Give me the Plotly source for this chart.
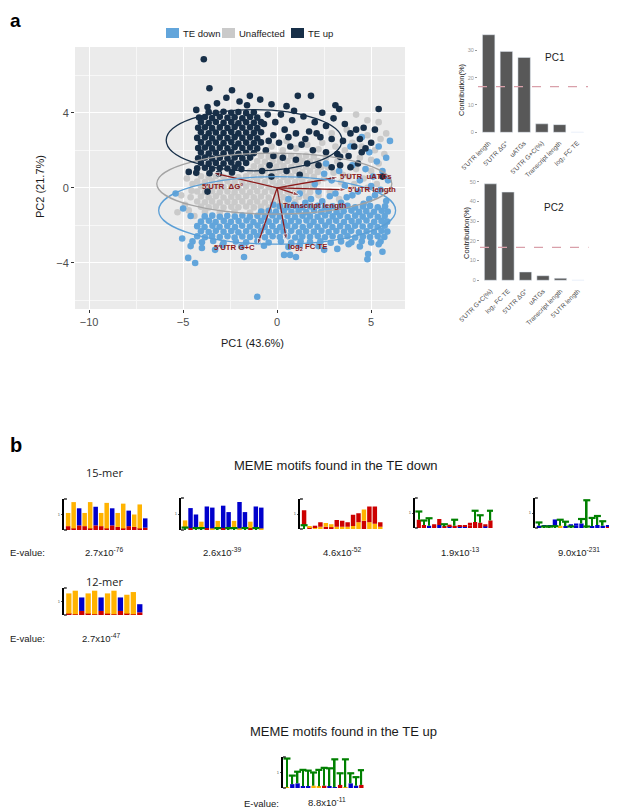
import plotly.graph_objects as go

# ------------------------------------------------------------------------------
# DATA
# ------------------------------------------------------------------------------
# PCA scores, one list per group: (PC1, PC2)
te_up_pts = [
    # sparse points around the dense block
    (-3.9, 6.85), (-3.6, 5.3), (-2.4, 5.2), (-1.45, 4.9), (1.1, 4.9), (1.8, 4.9),
    (3.1, 4.4), (3.3, 4.2), (5.4, 4.2), (4.6, 3.2), (4.2, 3.1), (-0.9, 4.7),
    (-0.3, 4.45), (0.5, 4.35), (-2.0, 4.6), (-3.2, 4.5), (-3.7, 4.3), (-4.3, 4.15),
    (-1.6, 4.4), (-2.7, 4.8), (0.2, 3.9), (0.8, 3.6), (1.4, 3.8), (2.0, 3.5),
    (2.6, 3.3), (3.0, 3.7), (3.6, 3.4), (0.4, 3.1), (1.0, 2.9), (1.7, 3.0),
    (2.3, 2.7), (2.9, 2.6), (3.5, 2.5), (3.9, 2.9), (4.4, 2.6), (0.1, 2.4),
    (0.7, 2.2), (1.3, 2.3), (1.9, 2.0), (2.6, 1.9), (3.2, 1.8), (3.8, 1.7),
    (4.5, 1.9), (4.7, 2.1), (0.3, 1.6), (1.0, 1.5), (1.6, 1.3), (2.2, 1.2),
    (2.9, 1.1), (3.35, 1.65), (3.35, 1.2), (3.9, 1.1), (5.6, 0.6), (0.5, 0.9),
    (1.2, 0.7), (-0.4, 1.2), (-0.6, 2.0), (-0.2, 2.8), (-0.7, 3.4), (-0.5, 3.9),
    (-0.1, 3.5), (0.6, 2.7), (1.5, 2.6), (2.1, 2.9), (4.1, 2.2), (5.2, 3.1),
    (5.0, 2.4), (4.3, 1.3), (-0.8, 0.9), (-0.3, 0.6), (-3.7, -0.2), (-0.45, 2.5),
    (-0.2, 1.7), (0.9, 4.1), (2.4, 4.0),
    # dense block
    (-3.64, 4.03), (-3.26, 3.99), (-2.85, 4.05), (-2.44, 4.0), (-2.06, 4.04), (-1.65, 3.98), (-1.24, 4.02),
    (-4.15, 3.74), (-3.84, 3.77), (-3.46, 3.72), (-3.05, 3.78), (-2.64, 3.73), (-2.26, 3.76),
    (-1.85, 3.71), (-1.44, 3.77), (-1.06, 3.74),
    (-4.05, 3.5), (-3.64, 3.45), (-3.26, 3.51), (-2.85, 3.46), (-2.44, 3.5), (-2.06, 3.44),
    (-1.65, 3.49), (-1.24, 3.47), (-0.86, 3.5),
    (-4.2, 3.2), (-3.84, 3.23), (-3.46, 3.18), (-3.05, 3.22), (-2.64, 3.19), (-2.26, 3.24),
    (-1.85, 3.2), (-1.44, 3.23), (-1.06, 3.18),
    (-4.05, 2.96), (-3.64, 2.91), (-3.26, 2.95), (-2.85, 2.92), (-2.44, 2.97), (-2.06, 2.9),
    (-1.65, 2.95), (-1.24, 2.93), (-0.86, 2.96),
    (-4.25, 2.66), (-3.84, 2.69), (-3.46, 2.64), (-3.05, 2.68), (-2.64, 2.65), (-2.26, 2.7),
    (-1.85, 2.66), (-1.44, 2.69), (-1.06, 2.64),
    (-4.05, 2.42), (-3.64, 2.37), (-3.26, 2.41), (-2.85, 2.38), (-2.44, 2.43), (-2.06, 2.36),
    (-1.65, 2.41), (-1.24, 2.39), (-0.86, 2.42),
    (-4.2, 2.12), (-3.84, 2.15), (-3.46, 2.1), (-3.05, 2.14), (-2.64, 2.11), (-2.26, 2.16),
    (-1.85, 2.12), (-1.44, 2.15), (-1.06, 2.1),
    (-4.05, 1.88), (-3.64, 1.83), (-3.26, 1.87), (-2.85, 1.84), (-2.44, 1.89), (-2.06, 1.82),
    (-1.65, 1.87), (-1.24, 1.85),
    (-4.2, 1.58), (-3.84, 1.61), (-3.46, 1.56), (-3.05, 1.6), (-2.64, 1.57), (-2.26, 1.62),
    (-1.85, 1.58), (-1.44, 1.61),
    (-4.05, 1.34), (-3.64, 1.29), (-3.26, 1.33), (-2.85, 1.3), (-2.44, 1.35), (-2.06, 1.28),
    (-1.65, 1.33),
    (-4.25, 1.04), (-3.84, 1.07), (-3.46, 1.02), (-3.05, 1.06), (-2.64, 1.03), (-2.26, 1.08),
    (-4.7, 0.85), (-4.3, 0.8), (-3.6, 0.78), (-3.1, 0.76), (-2.4, 0.82), (-1.9, 1.0),
]

unaffected_pts = [
    (-4.05, 0.62), (-3.64, 0.57), (-3.26, 0.63), (-2.85, 0.58), (-2.44, 0.62), (-2.06, 0.56),
    (-1.65, 0.61), (-1.24, 0.59), (-0.86, 0.63), (-0.45, 0.57), (-0.04, 0.62), (0.34, 0.58),
    (0.75, 0.61), (1.16, 0.56), (1.54, 0.63), (1.95, 0.59),
    (-4.25, 0.34), (-3.84, 0.31), (-3.46, 0.36), (-3.05, 0.3), (-2.64, 0.35), (-2.26, 0.31),
    (-1.85, 0.34), (-1.44, 0.3), (-1.06, 0.36), (-0.65, 0.31), (-0.24, 0.34), (0.14, 0.3),
    (0.55, 0.35), (0.96, 0.31), (1.34, 0.36), (1.75, 0.3), (2.16, 0.33),
    (-4.05, 0.08), (-3.64, 0.03), (-3.26, 0.07), (-2.85, 0.04), (-2.44, 0.08), (-2.06, 0.02),
    (-1.65, 0.07), (-1.24, 0.05), (-0.86, 0.09), (-0.45, 0.03), (-0.04, 0.08), (0.34, 0.04),
    (0.75, 0.07), (1.16, 0.02), (1.54, 0.08), (1.95, 0.05),
    (-4.25, -0.19), (-3.84, -0.22), (-3.46, -0.18), (-3.05, -0.23), (-2.64, -0.19), (-2.26, -0.24),
    (-1.85, -0.2), (-1.44, -0.23), (-1.06, -0.18), (-0.65, -0.22), (-0.24, -0.19), (0.14, -0.24),
    (0.55, -0.2), (0.96, -0.22), (1.34, -0.18), (1.75, -0.23),
    (-4.05, -0.46), (-3.64, -0.5), (-3.26, -0.45), (-2.85, -0.51), (-2.44, -0.47), (-2.06, -0.49),
    (-1.65, -0.45), (-1.24, -0.5), (-0.86, -0.46), (-0.45, -0.51), (-0.04, -0.47), (0.34, -0.5),
    (0.75, -0.45), (1.16, -0.49), (1.54, -0.46),
    (-4.25, -0.73), (-3.84, -0.77), (-3.46, -0.72), (-3.05, -0.78), (-2.64, -0.74), (-2.26, -0.76),
    (-1.85, -0.72), (-1.44, -0.77), (-1.06, -0.73), (-0.65, -0.78), (-0.24, -0.74), (0.14, -0.77),
    (0.55, -0.72), (0.96, -0.76),
    (-4.05, -1.0), (-3.64, -1.04), (-3.26, -0.99), (-2.85, -1.05), (-2.44, -1.01), (-2.06, -1.03),
    (-1.65, -0.99), (-1.24, -1.04), (-0.86, -1.0), (-0.45, -1.05), (-0.04, -1.01), (0.34, -1.03),
    (-3.84, -1.28), (-3.05, -1.31), (-2.26, -1.27), (-1.44, -1.32), (-0.65, -1.29),
    (-1.44, 0.88), (-1.06, 0.85), (-0.65, 0.9), (-0.24, 0.86), (0.14, 0.89), (0.55, 0.84),
    (0.96, 0.9), (1.34, 0.86), (1.75, 0.89), (2.16, 0.85),
    (-1.24, 1.15), (-0.86, 1.12), (-0.45, 1.17), (-0.04, 1.13), (0.34, 1.16), (0.75, 1.11),
    (1.16, 1.17), (1.54, 1.13), (1.95, 1.16), (2.36, 1.12),
    (-1.06, 1.42), (-0.65, 1.39), (-0.24, 1.44), (0.14, 1.4), (0.55, 1.43), (0.96, 1.38),
    (1.34, 1.44), (1.75, 1.4), (2.16, 1.43),
    (-0.86, 1.69), (-0.45, 1.66), (-0.04, 1.71), (0.34, 1.67), (0.75, 1.7), (1.16, 1.65),
    (1.54, 1.71), (1.95, 1.67),
    (-0.3, 2.2), (0.3, 2.0), (1.0, 2.1), (1.6, 2.3), (2.2, 2.05), (0.5, 2.5), (-0.6, 1.95),
    (-4.6, -0.5), (-4.9, -0.9), (-5.3, -1.3), (-4.5, 0.2), (-4.7, -1.2), (-5.1, -0.4),
    (-4.4, -1.5), (-4.8, 0.5), (-4.55, -0.15),
    (2.5, 0.5), (3.0, 0.8), (3.4, 0.3), (2.8, -0.2), (3.8, 0.6), (4.2, 1.0), (4.6, 0.5),
    (5.0, 0.9), (5.4, 1.3), (2.6, 1.6), (3.1, 2.2), (3.6, 2.0), (4.0, 2.4), (4.4, 1.6),
    (4.8, 2.8), (5.2, 2.0), (5.5, 2.6), (4.8, 3.6), (5.4, 3.5), (4.2, 3.9), (3.7, 3.1),
    (2.4, 2.4), (5.7, 1.8), (5.0, 1.5), (4.1, 0.2), (5.3, 0.2), (2.2, -0.4), (3.3, -0.6),
    (1.9, 0.1), (2.7, 1.1), (3.2, 1.4), (4.5, 2.2), (5.8, 2.9), (2.9, 2.9), (3.5, 0.7),
    (4.8, 0.0),
]

te_down_pts = [
    (0.14, -0.98), (0.55, -1.03), (0.96, -0.97), (1.34, -1.04), (1.75, -0.99), (2.16, -0.95),
    (2.54, -1.04), (2.95, -0.98), (3.36, -1.02), (3.74, -0.96), (4.15, -1.04), (4.56, -0.99),
    (4.94, -0.96), (5.35, -1.03), (5.74, -0.98),
    (-0.85, -1.26), (-0.44, -1.22), (-0.06, -1.28), (0.35, -1.23), (0.76, -1.27), (1.14, -1.24),
    (1.55, -1.29), (1.96, -1.22), (2.34, -1.27), (2.75, -1.23), (3.16, -1.28), (3.54, -1.25),
    (3.95, -1.21), (4.36, -1.28), (4.74, -1.24), (5.15, -1.27), (5.56, -1.22), (5.88, -1.26),
    (-3.85, -1.52), (-3.45, -1.48), (-3.05, -1.54), (-2.65, -1.49), (-2.25, -1.53), (-1.85, -1.47),
    (-1.45, -1.54), (-1.05, -1.49), (-0.65, -1.53), (-0.25, -1.47), (0.15, -1.52), (0.55, -1.5),
    (0.95, -1.55), (1.35, -1.48), (1.75, -1.52), (2.15, -1.54), (2.55, -1.47), (2.95, -1.52),
    (3.35, -1.49), (3.75, -1.55), (4.15, -1.48), (4.55, -1.53), (4.95, -1.47), (5.35, -1.54),
    (5.72, -1.5),
    (-4.05, -1.8), (-3.63, -1.75), (-3.27, -1.82), (-2.84, -1.76), (-2.46, -1.81), (-2.05, -1.77),
    (-1.63, -1.74), (-1.26, -1.82), (-0.85, -1.76), (-0.45, -1.8), (-0.06, -1.75), (0.36, -1.82),
    (0.74, -1.77), (1.15, -1.79), (1.56, -1.74), (1.94, -1.81), (2.35, -1.76), (2.76, -1.8),
    (3.14, -1.75), (3.55, -1.82), (3.96, -1.77), (4.34, -1.79), (4.75, -1.74), (5.16, -1.81),
    (5.55, -1.76), (5.85, -1.8),
    (-4.25, -2.04), (-3.86, -2.08), (-3.44, -2.02), (-3.06, -2.07), (-2.65, -2.03), (-2.24, -2.09),
    (-1.86, -2.02), (-1.45, -2.06), (-1.04, -2.01), (-0.66, -2.08), (-0.25, -2.04), (0.16, -2.09),
    (0.54, -2.02), (0.95, -2.05), (1.36, -2.08), (1.74, -2.02), (2.15, -2.07), (2.56, -2.01),
    (2.94, -2.08), (3.35, -2.04), (3.76, -2.09), (4.14, -2.02), (4.55, -2.06), (4.96, -2.03),
    (5.34, -2.08), (5.72, -2.02),
    (-4.05, -2.31), (-3.64, -2.35), (-3.26, -2.29), (-2.85, -2.34), (-2.44, -2.3), (-2.06, -2.36),
    (-1.65, -2.31), (-1.24, -2.34), (-0.86, -2.28), (-0.45, -2.35), (-0.04, -2.3), (0.34, -2.34),
    (0.75, -2.29), (1.16, -2.36), (1.54, -2.31), (1.95, -2.33), (2.36, -2.28), (2.74, -2.35),
    (3.15, -2.3), (3.56, -2.34), (3.94, -2.29), (4.35, -2.36), (4.76, -2.31), (5.14, -2.34),
    (5.55, -2.29), (5.86, -2.33),
    (-4.25, -2.58), (-3.84, -2.63), (-3.46, -2.57), (-3.05, -2.62), (-2.64, -2.58), (-2.26, -2.64),
    (-1.85, -2.59), (-1.44, -2.61), (-1.06, -2.56), (-0.65, -2.63), (-0.24, -2.58), (0.14, -2.62),
    (0.55, -2.57), (0.96, -2.64), (1.34, -2.59), (1.75, -2.61), (2.16, -2.56), (2.54, -2.63),
    (2.95, -2.58), (3.36, -2.62), (3.74, -2.57), (4.15, -2.64), (4.56, -2.59), (4.94, -2.62),
    (5.35, -2.57), (5.7, -2.61),
    (-4.5, -2.85), (-4.0, -2.9), (-3.4, -2.83), (-2.85, -2.92), (-2.2, -2.86), (-1.65, -2.9),
    (-1.05, -2.84), (-0.45, -2.91), (0.2, -2.86), (0.75, -2.93), (1.25, -2.84), (1.75, -2.89),
    (2.3, -2.85), (2.85, -2.92), (3.4, -2.86), (3.95, -2.9), (4.5, -2.84), (5.0, -2.91),
    (5.5, -2.86),
    (-4.6, -3.1), (-4.0, -3.2), (-2.9, -3.05), (-1.9, -3.12), (-0.7, -3.08), (0.6, -3.15),
    (1.2, -3.05), (2.2, -3.1), (3.8, -3.0), (4.4, -3.12), (5.4, -3.0),
    (-1.06, -5.8), (-4.73, -3.73), (-4.36, -4.0), (-1.76, -3.68), (0.37, -3.57), (0.69, -3.57),
    (1.0, -3.68), (4.84, -3.52), (4.8, -3.8), (5.6, -3.4), (-5.05, -2.7), (-3.3, -3.3),
    (2.5, -3.3), (3.2, -3.25),
    (1.8, -0.6), (2.4, -0.72), (3.1, -0.3), (3.7, -0.5), (4.3, -0.2), (4.9, -0.6),
    (5.5, -0.1), (5.8, -0.7), (2.0, 0.2), (2.9, 0.4), (3.6, 0.1), (4.4, 0.4), (5.1, 0.6),
    (5.9, 0.4), (3.3, 0.9), (4.0, 1.2), (4.7, 1.0), (5.3, 1.4), (5.8, 1.6), (5.4, 2.2),
    (6.0, 2.5), (4.9, 1.9), (2.6, 1.3), (1.2, -0.3), (0.6, -0.6), (-5.4, -0.3), (-5.0, -1.1),
    (-4.6, -1.5), (4.5, 2.7), (3.9, 2.2), (-0.2, -0.9), (5.6, 0.9), (2.2, -0.2), (3.4, -0.8),
    (4.6, -0.85), (5.2, -0.4), (1.5, -0.8), (2.8, -0.45), (0.9, -0.9), (4.0, -0.4),
    (5.0, 0.1), (2.5, 0.75),
]

# variable loadings (arrow tips) and where their labels sit
loading_names = ["5′UTR  ΔG°", "5′UTR  uATGs", "5′UTR length", "Transcript length",
                 "5′UTR G+C", "log<sub>2</sub> FC TE"]
loading_x = [-3.4, 3.25, 3.7, 1.2, -1.05, 0.5]
loading_y = [0.8, 0.57, -0.1, -0.4, -3.05, -2.8]
loading_label_x = [-2.9, 4.7, 5.05, 2.0, -2.25, 1.6]
loading_label_y = [0.05, 0.6, -0.1, -0.95, -3.2, -3.15]

# confidence ellipses: [x0, x1, y0, y1]
ellipse_te_up = [-5.9, 3.45, 0.9, 4.17]
ellipse_unaffected = [-6.4, 6.1, -1.4, 1.85]
ellipse_te_down = [-6.3, 6.3, -3.0, 0.6]

groups = ["TE down", "Unaffected", "TE up"]

pc1_labels = ["5′UTR length", "5′UTR ΔG°", "uATGs", "5′UTR G+C(%)", "Transcript length", "log₂ FC TE"]
pc1_values = [35.7, 29.6, 27.4, 3.1, 2.8, 0.05]
pc2_labels = ["5′UTR G+C(%)", "log₂ FC TE", "5′UTR ΔG°", "uATGs", "Transcript length", "5′UTR length"]
pc2_values = [48.9, 44.7, 4.2, 2.3, 1.0, 0.05]
expected_contrib = 16.7

# MEME sequence logos: top letter / height (bits) and the small letter under it
logo1_top = "GGCGGCGGCGGCGGC"
logo1_top_h = [0.85, 1.7, 1.1, 0.85, 1.7, 1.2, 0.85, 1.65, 1.1, 0.9, 1.6, 1.0, 0.8, 1.55, 0.6]
logo1_low = "AAAAAAAAAAAAAAA"
logo1_low_h = [0.25, 0.1, 0.3, 0.25, 0.1, 0.3, 0.25, 0.1, 0.3, 0.2, 0.1, 0.25, 0.2, 0.1, 0.15]

logo2_top = "GCCGCCGCCGCCGCC"
logo2_top_h = [0.45, 1.25, 0.85, 0.4, 1.35, 1.3, 0.45, 1.4, 1.0, 0.45, 1.65, 1.0, 0.4, 1.35, 1.3]
logo2_low = "TATTAGTATTGTATG"
logo2_low_h = [0.15, 0.12, 0.12, 0.12, 0.12, 0.1, 0.12, 0.12, 0.12, 0.12, 0.1, 0.12, 0.12, 0.12, 0.1]

logo3_top = "AGAAGGAAAAAGAAA"
logo3_top_h = [1.0, 0.08, 0.12, 0.3, 0.25, 0.2, 0.45, 0.4, 0.3, 0.75, 0.6, 0.75, 1.05, 1.15, 0.3]
logo3_low = "TAGGAAGGGGGAGGG"
logo3_low_h = [0.25, 0.08, 0.1, 0.15, 0.15, 0.12, 0.15, 0.15, 0.15, 0.2, 0.45, 0.55, 0.45, 0.35, 0.15]

logo4_top = "TTTAATATAAATTAT"
logo4_top_h = [0.55, 0.3, 0.5, 0.15, 0.4, 0.15, 0.12, 0.4, 0.1, 0.1, 0.2, 0.75, 0.5, 0.15, 0.65]
logo4_low = "AACACACACCAAACA"
logo4_low_h = [0.55, 0.2, 0.15, 0.1, 0.2, 0.1, 0.1, 0.15, 0.1, 0.1, 0.15, 0.4, 0.35, 0.1, 0.5]

logo5_top = "TCCCTTCCTTTTTCT"
logo5_top_h = [0.22, 0.1, 0.1, 0.45, 0.4, 0.3, 0.15, 0.15, 0.3, 1.75, 0.55, 0.6, 0.3, 0.1, 0.35]
logo5_low = "CTTTGCTCCTCCCAA"
logo5_low_h = [0.15, 0.1, 0.1, 0.12, 0.15, 0.12, 0.1, 0.15, 0.3, 0.1, 0.12, 0.2, 0.15, 0.1, 0.2]

logo6_top = "GGCGGCGGCGGC"
logo6_top_h = [1.5, 1.75, 1.0, 1.5, 1.75, 1.0, 1.5, 1.75, 1.0, 1.4, 1.65, 0.6]
logo6_low = "AAAAAAAAAAAA"
logo6_low_h = [0.1, 0.05, 0.3, 0.1, 0.05, 0.3, 0.1, 0.05, 0.3, 0.1, 0.05, 0.2]

logo7_top = "TTTTTTTTTTTTTTT"
logo7_top_h = [1.85, 0.55, 0.75, 1.05, 1.0, 0.85, 1.05, 1.15, 1.15, 1.8, 0.75, 1.8, 0.65, 0.55, 0.95]
logo7_low = "GCCCCGGACCAGCCA"
logo7_low_h = [0.05, 0.25, 0.3, 0.12, 0.12, 0.15, 0.12, 0.15, 0.12, 0.05, 0.2, 0.05, 0.3, 0.15, 0.2]

evalues_row1 = ["2.7x10<sup>-76</sup>", "2.6x10<sup>-39</sup>", "4.6x10<sup>-52</sup>",
                "1.9x10<sup>-13</sup>", "9.0x10<sup>-231</sup>"]
evalue_12mer = "2.7x10<sup>-47</sup>"
evalue_te_up = "8.8x10<sup>-11</sup>"

# ------------------------------------------------------------------------------
# STYLE / LAYOUT HELPERS
# ------------------------------------------------------------------------------
PAGE_W, PAGE_H = 617, 811
PAD = 8                      # the page body margin the figure sits inside
W, H = PAGE_W - PAD, PAGE_H - PAD
FONT = "Liberation Sans, Arial, sans-serif"
BLUE = "#62A5DB"
GRAY = "#CACACA"
NAVY = "#172F48"
ARROW = "#8B1A1A"
BAR = "#585858"
BASE_COLORS = {"A": "#CC0000", "C": "#0000CC", "G": "#FFB300", "T": "#008000"}


def fx(px):
    # page pixel -> paper fraction
    return (px - PAD) / W


def fy(py):
    return 1 - (py - PAD) / H


def label(px, py, text, size, color="#1a1a1a", family=FONT, anchor="center", angle=0):
    fig.add_annotation(x=fx(px), y=fy(py), xref="paper", yref="paper", text=text,
                       showarrow=False, xanchor=anchor, yanchor="middle", textangle=angle,
                       font=dict(family=family, size=size, color=color))


fig = go.Figure()

# ------------------------------------------------------------------------------
# PANEL a - PCA biplot
# ------------------------------------------------------------------------------
for pts, col in [(unaffected_pts, GRAY), (te_down_pts, BLUE), (te_up_pts, NAVY)]:
    fig.add_trace(go.Scatter(
        x=[p[0] for p in pts], y=[p[1] for p in pts], mode="markers",
        marker=dict(color=col, size=6.6, line=dict(width=0)),
        showlegend=False, hoverinfo="skip", xaxis="x", yaxis="y"))

fig.add_shape(type="rect", xref="x domain", yref="y domain", x0=0, x1=1, y0=0, y1=1,
              fillcolor="#EBEBEB", line_width=0, layer="below")

for box, col in [(ellipse_te_down, "#5B9FD6"), (ellipse_unaffected, "#A3A3A3"), (ellipse_te_up, NAVY)]:
    fig.add_shape(type="circle", xref="x", yref="y", x0=box[0], x1=box[1], y0=box[2], y1=box[3],
                  line=dict(color=col, width=1.3), layer="above")

# loading arrows from the origin
for i in range(len(loading_names)):
    fig.add_trace(go.Scatter(
        x=[0, loading_x[i]], y=[0, loading_y[i]], mode="lines+markers",
        line=dict(color=ARROW, width=1.3),
        marker=dict(symbol="arrow", angleref="previous", size=[0, 7], color=ARROW),
        showlegend=False, hoverinfo="skip", xaxis="x", yaxis="y"))
    fig.add_annotation(x=loading_label_x[i], y=loading_label_y[i], xref="x", yref="y",
                       text="<b>" + loading_names[i] + "</b>", showarrow=False,
                       font=dict(family=FONT, size=7.8, color=ARROW))

# legend on top
legend_cols = [BLUE, GRAY, NAVY]
legend_sw = [166, 222, 291]
for name, col, sx in zip(groups, legend_cols, legend_sw):
    fig.add_shape(type="rect", xref="paper", yref="paper", x0=fx(sx), x1=fx(sx + 13),
                  y0=fy(38), y1=fy(28), fillcolor=col, line_width=0)
    label(sx + 15, 33, name, 9.5, anchor="left")

label(252, 343, "PC1 (43.6%)", 11)
label(40, 187, "PC2 (21.7%)", 11, angle=-90)
fig.add_annotation(x=fx(8), y=1, xref="paper", yref="paper", text="<b>a</b>",
                   showarrow=False, xanchor="left", yanchor="top",
                   font=dict(family=FONT, size=19, color="#000"))

# ------------------------------------------------------------------------------
# PC contribution bar charts
# ------------------------------------------------------------------------------
fig.add_trace(go.Bar(x=pc1_labels, y=pc1_values, marker_color=BAR, width=0.7,
                     showlegend=False, hoverinfo="skip", xaxis="x2", yaxis="y2"))
fig.add_trace(go.Bar(x=pc2_labels, y=pc2_values, marker_color=BAR, width=0.7,
                     showlegend=False, hoverinfo="skip", xaxis="x3", yaxis="y3"))
for k in (2, 3):
    fig.add_shape(type="line", xref=f"x{k} domain", yref=f"y{k}", x0=0, x1=1,
                  y0=expected_contrib, y1=expected_contrib,
                  line=dict(color="#D9A0AA", width=1.3, dash="dash"))

label(462, 90, "Contribution(%)", 7.5, angle=-90)
label(466, 233, "Contribution(%)", 7.5, angle=-90)
label(555, 57, "PC1", 10)
label(554, 207, "PC2", 10)

# ------------------------------------------------------------------------------
# PANEL b - MEME motif logos
# ------------------------------------------------------------------------------
logos = [
    (logo1_top, logo1_top_h, logo1_low, logo1_low_h),
    (logo2_top, logo2_top_h, logo2_low, logo2_low_h),
    (logo3_top, logo3_top_h, logo3_low, logo3_low_h),
    (logo4_top, logo4_top_h, logo4_low, logo4_low_h),
    (logo5_top, logo5_top_h, logo5_low, logo5_low_h),
    (logo6_top, logo6_top_h, logo6_low, logo6_low_h),
    (logo7_top, logo7_top_h, logo7_low, logo7_low_h),
]
# page-pixel boxes (left, right, top, bottom) of each logo
logo_boxes = [(64, 148, 499, 530), (181, 264, 498, 530), (300, 383, 499, 529),
              (415, 493, 498, 528), (535, 616, 498, 528), (64, 143, 588, 615),
              (283, 364, 757, 788)]

layout_axes = {}
for k, ((top, top_h, low, low_h), box) in enumerate(zip(logos, logo_boxes)):
    n = len(top)
    ax_id = 4 + k
    pos = list(range(n))
    cap_x, cap_y = [], []
    for letters, heights, base in [(low, low_h, [0] * n),
                                    (top, top_h, low_h)]:
        fig.add_trace(go.Bar(
            x=pos, y=heights, base=base,
            marker=dict(color=[BASE_COLORS[c] for c in letters], line=dict(width=0)),
            width=[0.3 if c == "T" else 0.82 for c in letters],
            showlegend=False, hoverinfo="skip", xaxis=f"x{ax_id}", yaxis=f"y{ax_id}"))
        for i, c in enumerate(letters):
            if c == "T":
                cap_x.append(i)
                cap_y.append(base[i] + heights[i])
    fig.add_trace(go.Scatter(
        x=cap_x, y=cap_y, mode="markers",
        marker=dict(symbol="line-ew", size=5, line=dict(color=BASE_COLORS["T"], width=2.2)),
        showlegend=False, hoverinfo="skip", xaxis=f"x{ax_id}", yaxis=f"y{ax_id}"))
    # little caps that turn the axis line into a "]" bracket
    for yc in (0, 1):
        fig.add_shape(type="line", xref=f"x{ax_id} domain", yref=f"y{ax_id} domain",
                      x0=0, x1=0.035, y0=yc, y1=yc, line=dict(color="black", width=1.2))
    left, right, top_px, bot_px = box
    layout_axes[f"xaxis{ax_id}"] = dict(domain=[fx(left), min(fx(right), 1)], range=[-0.75, n - 0.5],
                                        visible=False, anchor=f"y{ax_id}")
    layout_axes[f"yaxis{ax_id}"] = dict(domain=[fy(bot_px), fy(top_px)], range=[0, 2],
                                        anchor=f"x{ax_id}", showline=True, linecolor="black",
                                        linewidth=1.5, ticks="outside", ticklen=1.5,
                                        tickcolor="#555", tickvals=[1], ticktext=["1"],
                                        showgrid=False, zeroline=False, automargin=False,
                                        tickfont=dict(size=4, color="#555"))

label(8, 445, "<b>b</b>", 20, color="#000", anchor="left")
label(336, 465, "MEME motifs found in the TE down", 13)
label(104, 472, "15-mer", 11, family="Open Sans, sans-serif")
label(8, 552, "E-value:", 9.5, anchor="left")
for xc, ev in zip([104, 222, 342, 460, 579], evalues_row1):
    label(xc, 552, ev, 9.5)
label(104, 581, "12-mer", 11, family="Open Sans, sans-serif")
label(8, 638, "E-value:", 9.5, anchor="left")
label(101, 638, evalue_12mer, 9.5)
label(343, 731, "MEME motifs found in the TE up", 13)
label(242, 803, "E-value:", 9.5, anchor="left")
label(327, 802, evalue_te_up, 9.5)

# ------------------------------------------------------------------------------
# AXES
# ------------------------------------------------------------------------------
small_tick = dict(ticks="outside", ticklen=2, tickcolor="#999", showgrid=False,
                  zeroline=False, showline=False, automargin=False)
fig.update_layout(
    width=W, height=H, margin=dict(l=0, r=0, t=0, b=0, autoexpand=False),
    paper_bgcolor="white", plot_bgcolor="rgba(0,0,0,0)",
    barmode="overlay", showlegend=False,
    font=dict(family=FONT),
    xaxis=dict(domain=[fx(75), fx(405)], range=[-10.75, 6.8], tick0=0, dtick=5,
               showgrid=True, gridcolor="white", gridwidth=1.2, zeroline=False,
               minor=dict(dtick=2.5, showgrid=True, gridcolor="#F7F7F7", gridwidth=0.6),
               ticks="outside", ticklen=3, tickcolor="#333", automargin=False,
               tickfont=dict(size=11, color="#4D4D4D"), anchor="y"),
    yaxis=dict(domain=[fy(309), fy(47)], range=[-6.45, 7.5], tick0=0, dtick=4,
               showgrid=True, gridcolor="white", gridwidth=1.2, zeroline=False,
               minor=dict(dtick=2, showgrid=True, gridcolor="#F7F7F7", gridwidth=0.6),
               ticks="outside", ticklen=3, tickcolor="#333", automargin=False,
               tickfont=dict(size=11, color="#4D4D4D"), anchor="x"),
    xaxis2=dict(domain=[fx(478), fx(588)], range=[-0.6, 5.6], type="category",
                tickangle=-45, tickfont=dict(size=6.5, color="#4D4D4D"), automargin=False,
                ticks="", showgrid=False, zeroline=False, anchor="y2"),
    yaxis2=dict(domain=[fy(137.2), fy(29.8)], range=[-1.79, 37.5],
                tickvals=[0, 10, 20, 30], tickfont=dict(size=5.5, color="#999"),
                anchor="x2", **small_tick),
    xaxis3=dict(domain=[fx(480), fx(588.5)], range=[-0.6, 5.6], type="category",
                tickangle=-45, tickfont=dict(size=6.5, color="#4D4D4D"), automargin=False,
                ticks="", showgrid=False, zeroline=False, anchor="y3"),
    yaxis3=dict(domain=[fy(285.1), fy(179)], range=[-2.45, 51.35],
                tickvals=[0, 10, 20, 30, 40, 50], tickfont=dict(size=5.5, color="#999"),
                anchor="x3", **small_tick),
    **layout_axes,
)

fig.write_html("out.html")
